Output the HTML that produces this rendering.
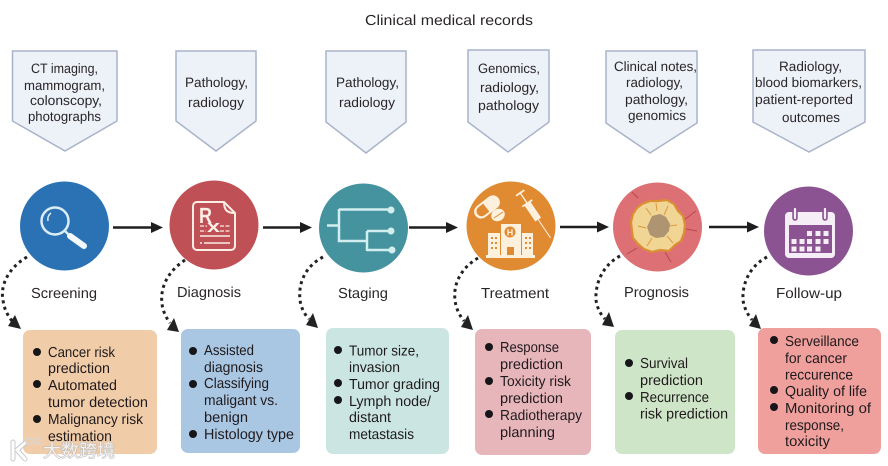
<!DOCTYPE html>
<html><head><meta charset="utf-8"><style>
html,body{margin:0;padding:0;background:#fff}
svg{display:block;text-rendering:geometricPrecision}
text{font-family:"Liberation Sans","Noto Sans CJK SC",sans-serif;fill:#2a2627}
.t{font-size:13.600px}
.s{font-size:14.500px}
.b{font-size:14.500px;fill:#1f1a1c}
.p{fill:#edf1f8;stroke:#a9b4ca;stroke-width:1.500}
.a{stroke:#1e1e1e;stroke-width:2.500;fill:none}
.d{stroke:#222;stroke-width:3;fill:none;stroke-dasharray:3 3.600}
.i{fill:none;stroke:#fbeee6;stroke-width:2}
</style></head><body>
<svg width="888" height="466" viewBox="0 0 888 466" xmlns="http://www.w3.org/2000/svg">
<rect width="888" height="466" fill="#fff"/>
<text x="365" y="25" class="s" textLength="168" lengthAdjust="spacingAndGlyphs">Clinical medical records</text>

<polygon class="p" points="12.500,51 117,51 117,121 65,151 12.500,121"/>
<polygon class="p" points="176,51 256,51 256,121 216,151 176,121"/>
<polygon class="p" points="326,51 406,51 406,122 366,153 326,122"/>
<polygon class="p" points="468,50 549,50 549,122 508,152 468,122"/>
<polygon class="p" points="606,51 697,51 697,123 650,153 606,123"/>
<polygon class="p" points="753,50 865,50 865,122 809,152 753,122"/>

<text class="t" x="31" y="73" textLength="67" lengthAdjust="spacingAndGlyphs">CT imaging,</text>
<text class="t" x="24" y="90" textLength="81" lengthAdjust="spacingAndGlyphs">mammogram,</text>
<text class="t" x="30" y="105" textLength="72" lengthAdjust="spacingAndGlyphs">colonscopy,</text>
<text class="t" x="28" y="121" textLength="73" lengthAdjust="spacingAndGlyphs">photographs</text>
<text class="t" x="185" y="87" textLength="63" lengthAdjust="spacingAndGlyphs">Pathology,</text>
<text class="t" x="188" y="107" textLength="56" lengthAdjust="spacingAndGlyphs">radiology</text>
<text class="t" x="336" y="87" textLength="63" lengthAdjust="spacingAndGlyphs">Pathology,</text>
<text class="t" x="339" y="107" textLength="56" lengthAdjust="spacingAndGlyphs">radiology</text>
<text class="t" x="478" y="73" textLength="62" lengthAdjust="spacingAndGlyphs">Genomics,</text>
<text class="t" x="480" y="92" textLength="59" lengthAdjust="spacingAndGlyphs">radiology,</text>
<text class="t" x="478" y="110" textLength="61" lengthAdjust="spacingAndGlyphs">pathology</text>
<text class="t" x="614" y="71" textLength="83" lengthAdjust="spacingAndGlyphs">Clinical notes,</text>
<text class="t" x="626" y="87" textLength="57" lengthAdjust="spacingAndGlyphs">radiology,</text>
<text class="t" x="625" y="104" textLength="63" lengthAdjust="spacingAndGlyphs">pathology,</text>
<text class="t" x="628" y="120" textLength="58" lengthAdjust="spacingAndGlyphs">genomics</text>
<text class="t" x="779" y="71" textLength="63" lengthAdjust="spacingAndGlyphs">Radiology,</text>
<text class="t" x="755" y="87" textLength="107" lengthAdjust="spacingAndGlyphs">blood biomarkers,</text>
<text class="t" x="755" y="104" textLength="98" lengthAdjust="spacingAndGlyphs">patient-reported</text>
<text class="t" x="782" y="122" textLength="58" lengthAdjust="spacingAndGlyphs">outcomes</text>

<!-- arrows -->
<g fill="#1e1e1e">
<path class="a" d="M113 227.500H155"/><polygon points="163,227.500 151,222 151,233"/>
<path class="a" d="M263 227.500H304"/><polygon points="312,227.500 300,222 300,233"/>
<path class="a" d="M409 227.500H450"/><polygon points="458,227.500 446,222 446,233"/>
<path class="a" d="M560 227H601"/><polygon points="609,227 597,221.500 597,232.500"/>
<path class="a" d="M709 227H751"/><polygon points="759,227 747,221.500 747,232.500"/>
</g>

<!-- circles -->
<circle cx="64.500" cy="226" r="44.500" fill="#2b72b4"/>
<circle cx="214" cy="225" r="44.500" fill="#bf5156"/>
<circle cx="363.500" cy="228" r="44.500" fill="#45939f"/>
<circle cx="511" cy="226" r="44.500" fill="#e08a32"/>
<circle cx="657.500" cy="227" r="44.500" fill="#dc7074"/>
<circle cx="808.500" cy="231" r="44.500" fill="#8b5391"/>

<!-- magnifier -->
<circle cx="55" cy="221" r="13.500" fill="none" stroke="#dcedf6" stroke-width="2.500"/>
<path d="M48 221a8 8 0 0 1 3-8" fill="none" stroke="#dcedf6" stroke-width="1.500"/>
<path d="M65 231l3 3" stroke="#dcedf6" stroke-width="2.500"/>
<path d="M70 236l14 10" stroke="#f3f8fb" stroke-width="6" stroke-linecap="round"/>

<!-- Rx -->
<path d="M197 202h27l11 11v33a4 4 0 0 1-4 4h-34a4 4 0 0 1-4-4v-40a4 4 0 0 1 4-4z" class="i"/>
<path d="M224 202c0 8 3 11 11 11" class="i"/>
<text x="199" y="223" textLength="13" lengthAdjust="spacingAndGlyphs" style="font-size:22px;font-weight:bold;fill:#fbeee6">R</text>
<text x="207" y="232" textLength="13" lengthAdjust="spacingAndGlyphs" style="font-size:17px;font-weight:bold;fill:#fbeee6">x</text>
<path d="M200 226h7M200 231h6M220 226h10M220 231h10" stroke="#fbeee6" stroke-width="1.300" stroke-dasharray="4 1.500"/>
<path d="M200 236h30M204 243h26" stroke="#fbeee6" stroke-width="1.500"/>
<path d="M200 243h2" stroke="#fbeee6" stroke-width="1.500"/>

<!-- tree -->
<g fill="none" stroke="#d3eeee" stroke-width="2.500">
<path d="M327 225.500h12M339 209.500h52M339 209v32h28M367 231v20M367 231h25M367 250h25"/>
</g>
<circle cx="391" cy="210" r="3.500" fill="#d3eeee"/><circle cx="391" cy="231" r="3.500" fill="#d3eeee"/><circle cx="392" cy="250" r="3.500" fill="#d3eeee"/>

<!-- treatment -->
<g transform="translate(487,207) rotate(52)">
<rect x="-7" y="-14.500" width="14" height="29" rx="7" fill="#fdf0dd"/>
<path d="M-5 1h10v6a5 5 0 0 1-10 0z" fill="#e08a32"/>
</g>
<g fill="#fdf0dd">
<ellipse cx="498" cy="215" rx="7" ry="6" transform="rotate(-30 498 215)"/>
<rect x="488" y="233" width="12" height="22"/><rect x="522" y="233" width="11" height="22"/>
<rect x="501" y="224" width="20" height="31"/>
<rect x="486" y="255" width="49" height="3"/>
<g transform="translate(527,203) rotate(-34)">
<rect x="-.700" y="-13" width="1.400" height="13"/><rect x="-5" y="-13" width="10" height="1.800"/>
<rect x="-6" y="-.500" width="12" height="1.800"/>
<rect x="-3.500" y="0" width="7" height="20"/>
<rect x="-.500" y="20" width="1" height="22"/>
</g>
</g>
<path d="M494 218l9-6" stroke="#e08a32" stroke-width="1"/>
<circle cx="510" cy="232" r="5.500" fill="#e08a32"/>
<text x="510" y="235.500" style="font-size:9px;font-weight:bold;fill:#fdf0dd;text-anchor:middle">H</text>
<rect x="507" y="247" width="7" height="8" fill="#e08a32"/>
<g fill="#e08a32"><rect x="491" y="237" width="2" height="2"/><rect x="495" y="237" width="2" height="2"/><rect x="491" y="242" width="2" height="2"/><rect x="495" y="242" width="2" height="2"/><rect x="491" y="247" width="2" height="2"/><rect x="495" y="247" width="2" height="2"/><rect x="525" y="237" width="2" height="2"/><rect x="529" y="237" width="2" height="2"/><rect x="525" y="242" width="2" height="2"/><rect x="529" y="242" width="2" height="2"/><rect x="525" y="247" width="2" height="2"/><rect x="529" y="247" width="2" height="2"/></g>

<!-- tumor -->
<g fill="none" stroke="#b9474d" stroke-width="1"><path d="M684 220l12-9M686 229l11 2M627 254l10-6M665 252l6 10M638 198l-6-6"/></g>
<path d="M642 204l8-3 8 0 9-1 7 4 4 7 5 5 2 9-1 8-3 8-6 4-6 6-9-1-8 2-8-3-6-5-5-6-1-7-1-9 2-8 4-6z" fill="#f0d595" stroke="#dc8e33" stroke-width="2.200"/>
<path d="M646 208l5 7M668 206l-4 9M677 225l-8 1M673 243l-6-7M647 246l5-8M638 226l8 2M656 203l1 8" stroke="#dc9a3c" stroke-width="1" fill="none"/>
<path d="M652 216l8-2 6 3 4 7-1 7-5 6-8 1-6-3-3-8z" fill="#ae9470"/>

<!-- calendar -->
<rect x="785" y="212" width="50" height="46" rx="4" fill="#f6eef6"/>
<rect x="789" y="225" width="43" height="28" fill="#8b5391"/>
<path d="M795 209v9M825 209v9" stroke="#8b5391" stroke-width="5.500" stroke-linecap="round"/>
<path d="M795 209v9M825 209v9" stroke="#f6eef6" stroke-width="2.200" stroke-linecap="round"/>
<g fill="#f6eef6"><rect x="807" y="231" width="5" height="5"/><rect x="815.500" y="231" width="5" height="5"/><rect x="823.500" y="231" width="5" height="5"/><rect x="791.500" y="239" width="5" height="5"/><rect x="799.500" y="239" width="5" height="5"/><rect x="807" y="239" width="5" height="5"/><rect x="815.500" y="239" width="5" height="5"/><rect x="823.500" y="239" width="5" height="5"/><rect x="791.500" y="246.500" width="5" height="5"/><rect x="799.500" y="246.500" width="5" height="5"/><rect x="807" y="246.500" width="5" height="5"/><rect x="815.500" y="246.500" width="5" height="5"/></g>

<!-- stage labels -->
<text class="s" x="31" y="298" textLength="66" lengthAdjust="spacingAndGlyphs">Screening</text>
<text class="s" x="177" y="297" textLength="64" lengthAdjust="spacingAndGlyphs">Diagnosis</text>
<text class="s" x="338" y="298" textLength="50" lengthAdjust="spacingAndGlyphs">Staging</text>
<text class="s" x="481" y="298" textLength="68" lengthAdjust="spacingAndGlyphs">Treatment</text>
<text class="s" x="624" y="297" textLength="65" lengthAdjust="spacingAndGlyphs">Prognosis</text>
<text class="s" x="776" y="298" textLength="66" lengthAdjust="spacingAndGlyphs">Follow-up</text>

<!-- dotted curves -->
<path class="d" d="M27 257C8 268 0 286 3 300C4 309 8 316 12 321"/>
<polygon fill="#222" points="21,329 8,326 15,315"/>
<path class="d" d="M185 260C167 272 160 288 162 304C163 312 167 319 170 323"/>
<polygon fill="#222" points="179,332 167,330 174,318"/>
<path class="d" d="M323 257C306 266 298 282 300 300C301 308 305 315 309 319"/>
<polygon fill="#222" points="318,328 306,325 313,313"/>
<path class="d" d="M478 258C461 268 453 284 455 300C456 309 460 316 464 321"/>
<polygon fill="#222" points="473,330 461,327 468,315"/>
<path class="d" d="M620 256C603 265 595 283 596 300C597 308 601 315 605 319"/>
<polygon fill="#222" points="614,327 602,325 609,312"/>
<path class="d" d="M767 257C750 266 742 283 743 300C744 308 748 315 752 320"/>
<polygon fill="#222" points="761,329 749,326 756,314"/>

<!-- boxes -->
<rect x="23" y="330" width="134" height="124" rx="7" fill="#f0cca8"/>
<rect x="181" y="329" width="119" height="124" rx="7" fill="#a9c6e3"/>
<rect x="326" y="328" width="123" height="126" rx="7" fill="#cbe6e2"/>
<rect x="475" y="329" width="116" height="126" rx="7" fill="#e7b6bb"/>
<rect x="615" y="330" width="120" height="124" rx="7" fill="#cfe5c8"/>
<rect x="758" y="328" width="123" height="126" rx="7" fill="#ef9f9c"/>

<g fill="#16151a">
<circle cx="37" cy="352" r="4"/><circle cx="37" cy="384" r="4"/><circle cx="37" cy="419" r="4"/>
<circle cx="193" cy="351" r="4"/><circle cx="193" cy="384" r="4"/><circle cx="193" cy="434" r="4"/>
<circle cx="338" cy="350" r="4"/><circle cx="338" cy="383" r="4"/><circle cx="338" cy="400" r="4"/>
<circle cx="489" cy="347" r="4"/><circle cx="489" cy="381" r="4"/><circle cx="489" cy="414" r="4"/>
<circle cx="629" cy="363" r="4"/><circle cx="629" cy="396" r="4"/>
<circle cx="774" cy="340" r="4"/><circle cx="774" cy="390" r="4"/><circle cx="774" cy="407" r="4"/>
</g>

<text class="b" x="48" y="357" textLength="67" lengthAdjust="spacingAndGlyphs">Cancer risk</text>
<text class="b" x="48" y="373" textLength="62" lengthAdjust="spacingAndGlyphs">prediction</text>
<text class="b" x="48" y="390" textLength="69" lengthAdjust="spacingAndGlyphs">Automated</text>
<text class="b" x="48" y="407" textLength="100" lengthAdjust="spacingAndGlyphs">tumor detection</text>
<text class="b" x="48" y="424" textLength="95" lengthAdjust="spacingAndGlyphs">Malignancy risk</text>
<text class="b" x="48" y="441" textLength="64" lengthAdjust="spacingAndGlyphs">estimation</text>

<text class="b" x="204" y="355" textLength="50" lengthAdjust="spacingAndGlyphs">Assisted</text>
<text class="b" x="204" y="372" textLength="59" lengthAdjust="spacingAndGlyphs">diagnosis</text>
<text class="b" x="204" y="388" textLength="65" lengthAdjust="spacingAndGlyphs">Classifying</text>
<text class="b" x="204" y="405" textLength="74" lengthAdjust="spacingAndGlyphs">maligant vs.</text>
<text class="b" x="204" y="422" textLength="44" lengthAdjust="spacingAndGlyphs">benign</text>
<text class="b" x="204" y="439" textLength="90" lengthAdjust="spacingAndGlyphs">Histology type</text>

<text class="b" x="349" y="355.500" textLength="70" lengthAdjust="spacingAndGlyphs">Tumor size,</text>
<text class="b" x="349" y="372" textLength="51" lengthAdjust="spacingAndGlyphs">invasion</text>
<text class="b" x="349" y="389" textLength="91" lengthAdjust="spacingAndGlyphs">Tumor grading</text>
<text class="b" x="349" y="406" textLength="82" lengthAdjust="spacingAndGlyphs">Lymph node/</text>
<text class="b" x="349" y="422" textLength="42" lengthAdjust="spacingAndGlyphs">distant</text>
<text class="b" x="349" y="439" textLength="65" lengthAdjust="spacingAndGlyphs">metastasis</text>

<text class="b" x="500" y="352" textLength="59" lengthAdjust="spacingAndGlyphs">Response</text>
<text class="b" x="500" y="369" textLength="63" lengthAdjust="spacingAndGlyphs">prediction</text>
<text class="b" x="500" y="386" textLength="71" lengthAdjust="spacingAndGlyphs">Toxicity risk</text>
<text class="b" x="500" y="403" textLength="63" lengthAdjust="spacingAndGlyphs">prediction</text>
<text class="b" x="500" y="420" textLength="82" lengthAdjust="spacingAndGlyphs">Radiotherapy</text>
<text class="b" x="500" y="437" textLength="55" lengthAdjust="spacingAndGlyphs">planning</text>

<text class="b" x="640" y="368" textLength="48" lengthAdjust="spacingAndGlyphs">Survival</text>
<text class="b" x="640" y="385" textLength="63" lengthAdjust="spacingAndGlyphs">prediction</text>
<text class="b" x="640" y="402" textLength="69" lengthAdjust="spacingAndGlyphs">Recurrence</text>
<text class="b" x="640" y="418.500" textLength="88" lengthAdjust="spacingAndGlyphs">risk prediction</text>

<text class="b" x="785" y="346" textLength="74" lengthAdjust="spacingAndGlyphs">Serveillance</text>
<text class="b" x="785" y="363" textLength="62" lengthAdjust="spacingAndGlyphs">for cancer</text>
<text class="b" x="785" y="379.500" textLength="68" lengthAdjust="spacingAndGlyphs">reccurence</text>
<text class="b" x="785" y="396" textLength="82" lengthAdjust="spacingAndGlyphs">Quality of life</text>
<text class="b" x="785" y="413" textLength="86" lengthAdjust="spacingAndGlyphs">Monitoring of</text>
<text class="b" x="785" y="430" textLength="59" lengthAdjust="spacingAndGlyphs">response,</text>
<text class="b" x="785" y="446" textLength="45" lengthAdjust="spacingAndGlyphs">toxicity</text>

<!-- watermark -->
<g fill="none" stroke-linecap="round" opacity=".9">
<path d="M13 442v17M25 443l-8 7 8 9" stroke="#c4c4c4" stroke-width="5"/>
<path d="M13 442v17M25 443l-8 7 8 9" stroke="#fff" stroke-width="3"/>
<circle cx="29" cy="441" r="3" stroke="#d8d8d8" stroke-width="1.500"/><circle cx="37" cy="441" r="3" stroke="#d8d8d8" stroke-width="1.500"/>
</g>
<text x="43" y="457" textLength="72" lengthAdjust="spacingAndGlyphs" style="font-size:18px;fill:#f4f1ee;stroke:#b9b9b9;stroke-width:1px;paint-order:stroke">大数跨境</text>
</svg>
</body></html>
